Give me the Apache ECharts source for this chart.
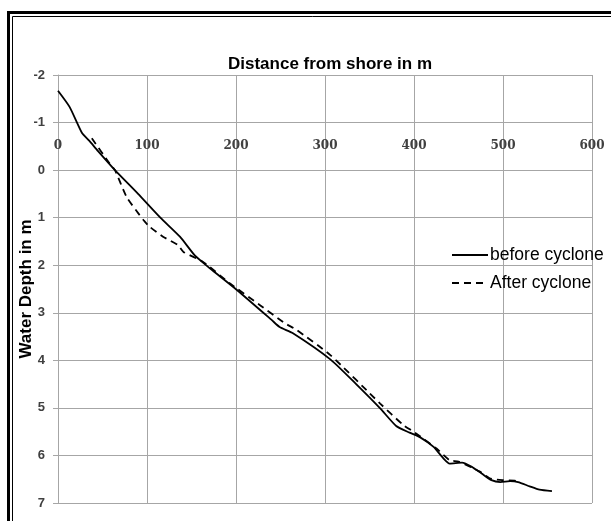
<!DOCTYPE html>
<html>
<head>
<meta charset="utf-8">
<script src="https://cdn.jsdelivr.net/npm/echarts@6/dist/echarts.min.js"></script>
<style>html,body{margin:0;padding:0;background:#fff}#c{width:611px;height:521px}</style>
</head>
<body>
<div id="c"></div>
<script>
var xTicks = [0, 100, 200, 300, 400, 500, 600];
var yTicks = [-2, -1, 0, 1, 2, 3, 4, 5, 6, 7];
var seriesNames = ['before cyclone', 'After cyclone'];
var beforeDist = [0, 13, 27, 35, 45, 64, 90, 115, 137, 154, 171, 201, 240, 249, 264, 306, 335, 362, 380, 395, 407, 422, 433, 440, 454, 465, 476, 487, 497, 508, 517, 530, 541, 555];
var beforeDepth = [-1.67, -1.33, -0.78, -0.62, -0.40, 0.00, 0.50, 1.00, 1.40, 1.80, 2.07, 2.52, 3.15, 3.30, 3.43, 3.98, 4.50, 5.01, 5.38, 5.52, 5.62, 5.82, 6.06, 6.17, 6.15, 6.24, 6.38, 6.52, 6.56, 6.54, 6.56, 6.65, 6.72, 6.75];
var afterDist = [38, 58, 64, 77, 96, 103, 118, 135, 141, 163, 193, 227, 255, 268, 306, 362, 388, 401, 425, 440, 450, 474, 485, 500, 513, 520];
var afterDepth = [-0.67, -0.14, 0.00, 0.56, 1.05, 1.19, 1.40, 1.58, 1.72, 1.93, 2.38, 2.84, 3.22, 3.36, 3.89, 4.91, 5.36, 5.52, 5.85, 6.10, 6.13, 6.34, 6.48, 6.52, 6.53, 6.56];

function pairs(xs, ys) { return xs.map(function (x, i) { return [x, ys[i]]; }); }

var chart = echarts.init(document.getElementById('c'), null, {renderer: 'canvas'});
var gridColor = '#a6a6a6';
chart.setOption({
  animation: false,
  backgroundColor: '#ffffff',
  title: {
    text: 'Distance from shore in m',
    left: 325, top: 51, textAlign: 'center',
    textStyle: {fontFamily: 'Liberation Sans', fontWeight: 'bold', fontSize: 17, color: '#000'}
  },
  legend: {
    orient: 'vertical', left: 446, top: 241,
    itemWidth: 36, itemHeight: 14, itemGap: 10,
    itemStyle: {opacity: 0},
    textStyle: {fontFamily: 'Liberation Sans', fontSize: 17.5, color: '#000', padding: [0, 0, 0, -3]},
    data: seriesNames
  },
  grid: {left: 58, right: 19, top: 75, bottom: 18, containLabel: false},
  xAxis: {
    type: 'value', min: xTicks[0], max: xTicks[xTicks.length - 1], interval: 100,
    position: 'top', offset: -95,
    axisLine: {show: false, onZero: false},
    axisTick: {show: false},
    axisLabel: {margin: 18, fontFamily: 'DejaVu Serif', fontWeight: 'bold', fontSize: 12, color: '#404040'},
    splitLine: {show: true, lineStyle: {color: gridColor, width: 1}}
  },
  yAxis: {
    type: 'value', inverse: true, min: yTicks[0], max: yTicks[yTicks.length - 1], interval: 1,
    name: 'Water Depth in m', nameLocation: 'middle', nameGap: 23, nameRotate: 90,
    nameMoveOverlap: false,
    nameTextStyle: {fontFamily: 'Liberation Sans', fontWeight: 'bold', fontSize: 17, color: '#000'},
    axisLine: {show: true, lineStyle: {color: gridColor}},
    axisTick: {show: true, length: 5, lineStyle: {color: gridColor}},
    axisLabel: {margin: 13, fontFamily: 'Liberation Sans', fontWeight: 'bold', fontSize: 13, color: '#404040'},
    splitLine: {show: true, lineStyle: {color: gridColor, width: 1}}
  },
  series: [
    {
      name: seriesNames[0], type: 'line', data: pairs(beforeDist, beforeDepth),
      symbol: 'none', showSymbol: false, smooth: 0.2,
      lineStyle: {color: '#000', width: 1.8, type: 'solid'},
      itemStyle: {color: '#000'}
    },
    {
      name: seriesNames[1], type: 'line', data: pairs(afterDist, afterDepth),
      symbol: 'none', showSymbol: false, smooth: 0.2,
      lineStyle: {color: '#000', width: 1.8, type: [7, 5]},
      itemStyle: {color: '#000'}
    }
  ],
  graphic: [
    {type: 'rect', silent: true, shape: {x: 8.5, y: 12.5, width: 700, height: 600}, style: {fill: null, stroke: '#000', lineWidth: 3}},
    {type: 'rect', silent: true, shape: {x: 12.5, y: 16.5, width: 700, height: 600}, style: {fill: null, stroke: '#000', lineWidth: 1}}
  ]
});
</script>
</body>
</html>
